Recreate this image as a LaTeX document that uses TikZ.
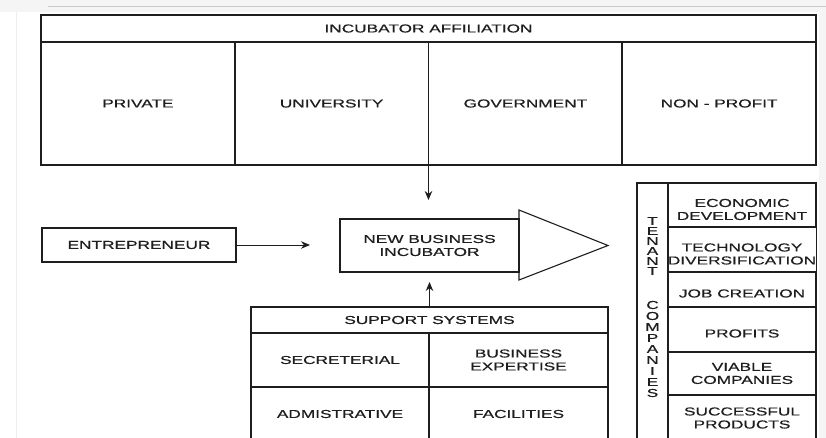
\documentclass[tikz,border=0pt]{standalone}
\usepackage{fontspec}
\setmainfont{Liberation Sans}[FakeStretch=1.5, FakeBold=0.6]
\usepackage{xcolor}
\usepackage{tikz}
\usetikzlibrary{arrows.meta}

\definecolor{ink}{HTML}{1E1E1E}
\definecolor{edge}{HTML}{EEEEEE}

\tikzset{
    cell/.style 2 args={draw=ink, line width=1.1pt, minimum width=#1, minimum height=#2,
        inner sep=0pt, outer sep=0pt, align=center, text=ink},
    bigcell/.style 2 args={cell={#1}{#2}, line width=1.7pt},
    sunk/.style={text height=16pt},
    sunktwo/.style={text height=30pt},
    letters/.style={align=center, inner sep=0pt, text=ink},
    flow/.style={draw=ink, line width=0.9pt, -{Stealth[length=9pt,width=7.5pt]}}
}

\begin{document}
\begin{tikzpicture}[x=1pt, y=-1pt, font=\fontsize{11.5}{13}\selectfont]
                    \useasboundingbox (0, 0) rectangle (826, 438);
                    \clip (0, 0) rectangle (826, 438);
                    \fill[white] (0, 0) rectangle (826, 438);
                    \fill[edge!60] (0, 0) rectangle (826, 12);
                    \fill[edge!60] (819, 12) rectangle (826, 438);
                    \draw[black!20, line width=0.8pt] (48, 6.5) -- (826, 6.5);
                    \draw[edge, line width=0.8pt] (16, 12) -- (16, 438);

                    % incubator affiliation
                    \node[bigcell={775pt}{27pt}] (aff) at (428.5, 28.5) {INCUBATOR AFFILIATION};
                    \node[bigcell={193.75pt}{123pt}] (priv) at (137.9, 103.5) {PRIVATE};
                    \node[bigcell={193.75pt}{123pt}] (univ) at (331.6, 103.5) {UNIVERSITY};
                    \node[bigcell={193.75pt}{123pt}] (gov) at (525.4, 103.5) {GOVERNMENT};
                    \node[bigcell={193.75pt}{123pt}] (nonprof) at (719.1, 103.5) {NON - PROFIT};

                    % middle row
                    \node[cell={194pt}{34pt}] (entr) at (139, 245) {ENTREPRENEUR};
                    \node[cell={179pt}{53pt}] (nbi) at (429.5, 245.5) {NEW BUSINESS\\INCUBATOR};
                    \draw[ink, line width=1.1pt] ([yshift=9pt]nbi.north east) -- ([xshift=89pt]nbi.east)
                        -- ([yshift=-8pt]nbi.south east) -- cycle;

                    % support systems
                    \node[cell={357pt}{26pt}] (supp) at (429.5, 320) {SUPPORT SYSTEMS};
                    \node[cell={178pt}{54pt}] (secr) at (340, 360) {SECRETERIAL};
                    \node[cell={179pt}{54pt}] (busx) at (518.5, 360) {BUSINESS\\EXPERTISE};
                    \node[cell={178pt}{54pt}] (admin) at (340, 414) {ADMISTRATIVE};
                    \node[cell={179pt}{54pt}] (facil) at (518.5, 414) {FACILITIES};

                    % tenant companies
                    \node[cell={31pt}{258pt}] (tenant) at (652.5, 312) {};
                    \node[letters, font=\fontsize{11.5}{10}\selectfont] (tword) at (652.5, 246) {T\\E\\N\\A\\N\\T};
                    \node[letters, font=\fontsize{11.5}{11}\selectfont] (cword) at (652.5, 349) {C\\O\\M\\P\\A\\N\\I\\E\\S};
                    \node[cell={148pt}{44pt}, sunktwo] (econ) at (742, 205) {ECONOMIC\\DEVELOPMENT};
                    \node[cell={148pt}{45pt}, sunktwo] (tech) at (742, 249.5) {TECHNOLOGY\\DIVERSIFICATION};
                    \node[cell={148pt}{35pt}, sunk] (job) at (742, 289.5) {JOB CREATION};
                    \node[cell={148pt}{45pt}, sunk] (prof) at (742, 329.5) {PROFITS};
                    \node[cell={148pt}{43pt}] (viab) at (742, 373.5) {VIABLE\\COMPANIES};
                    \node[cell={148pt}{46pt}] (succ) at (742, 418) {SUCCESSFUL\\PRODUCTS};

                    % arrows
                    \draw[flow, shorten >=19pt] (univ.south east) -- (univ.south east |- nbi.north);
                    \draw[flow, shorten >=30pt] (entr.east) -- (entr.east -| nbi.west);
                    \draw[flow, shorten >=10pt] (supp.north) -- (supp.north |- nbi.south);
                \end{tikzpicture}
\end{document}
